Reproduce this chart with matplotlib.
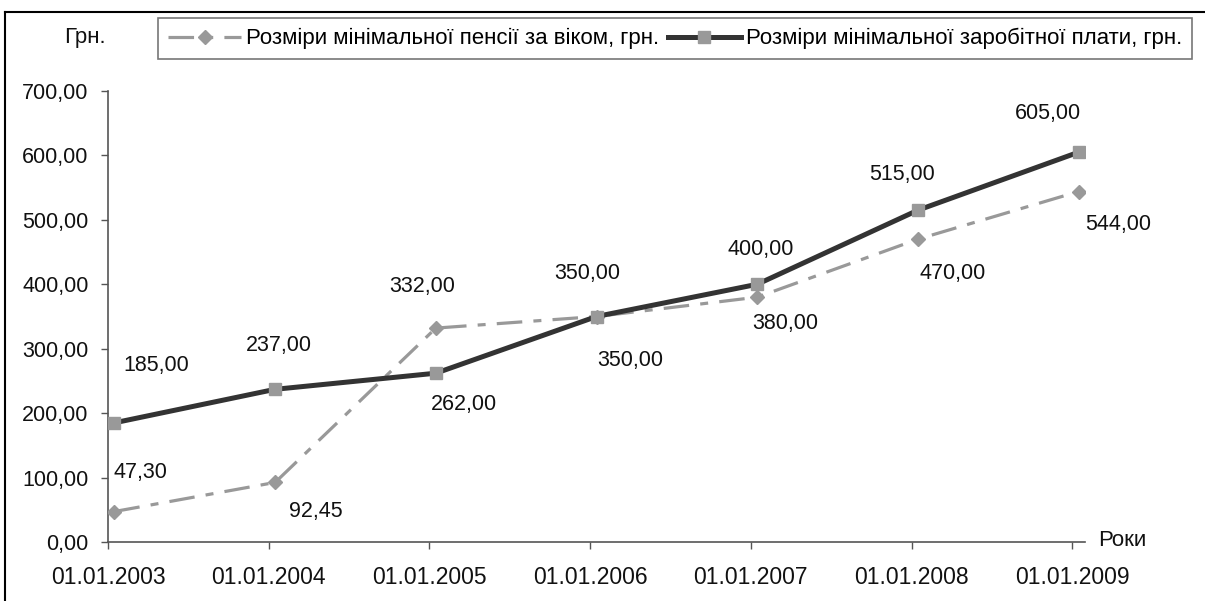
import numpy as np
import matplotlib
matplotlib.use("Agg")
import matplotlib.pyplot as plt
from matplotlib.lines import Line2D

plt.rcParams['font.family'] = ['Liberation Sans', 'DejaVu Sans']

# data
dates = ['01.01.2003', '01.01.2004', '01.01.2005', '01.01.2006',
         '01.01.2007', '01.01.2008', '01.01.2009']
pension = [47.30, 92.45, 332.00, 350.00, 380.00, 470.00, 544.00]
salary = [185.00, 237.00, 262.00, 350.00, 400.00, 515.00, 605.00]
pension_label = 'Розміри мінімальної пенсії за віком, грн.'
salary_label = 'Розміри мінімальної заробітної плати, грн.'
yticks = [0, 100, 200, 300, 400, 500, 600, 700]

# label offsets in pixels (dx, dy)
sal_off = [(42, 57), (4, 44), (28, -31), (-9, 43), (3, 35), (-16, 36), (-31, 39)]
pen_off = [(26, 39), (41, -29), (-14, 42), (34, -44), (28, -26), (35, -34), (40, -33)]

def fmt(v):
    return ('%.2f' % v).replace('.', ',')

fig = plt.figure(figsize=(12.05, 6.01), dpi=100)
ax = fig.add_axes([108/1205, 1-542/601, 977/1205, 451/601])

x = np.arange(len(dates))
xp = x + 0.04
ax.plot(xp, pension, color='#999999', lw=2.3, ls=(0, (8, 3.5, 2.5, 3.5)),
        marker='D', ms=7, mfc='#999999', mec='#999999', label=pension_label, zorder=3)
ax.plot(xp, salary, color='#333333', lw=3.6, marker='s', ms=8.5,
        mfc='#999999', mec='#999999', label=salary_label, zorder=4)

for xi, v, o in zip(xp, salary, sal_off):
    ax.annotate(fmt(v), (xi, v), xytext=o, textcoords='offset pixels',
                ha='center', va='center', fontsize=15.5, color='#111111')
for xi, v, o in zip(xp, pension, pen_off):
    ax.annotate(fmt(v), (xi, v), xytext=o, textcoords='offset pixels',
                ha='center', va='center', fontsize=15.5, color='#111111')

ax.set_xlim(0, 977/160.7)
ax.set_ylim(0, 700)
ax.set_xticks(x)
ax.set_xticklabels(dates)
ax.set_yticks(yticks)
ax.set_yticklabels([fmt(v) for v in yticks])
ax.tick_params(colors='#555555', labelcolor='#111111',
               length=5, width=1, direction='out')
ax.tick_params(axis='x', pad=12, labelsize=16.5)
ax.tick_params(axis='y', pad=9, labelsize=15.5)
for s in ['top', 'right']:
    ax.spines[s].set_visible(False)
for s in ['left', 'bottom']:
    ax.spines[s].set_color('#555555')
    ax.spines[s].set_linewidth(1.2)
ax.patch.set_alpha(0)

fig.text(1098/1205, 1-540/601, 'Роки', fontsize=16, ha='left', va='center', color='#111111')
fig.text(85/1205, 1-37/601, 'Грн.', fontsize=16, ha='center', va='center', color='#111111')

leg = fig.legend(loc='upper left', bbox_to_anchor=(158/1205, 1-18/601), ncol=2,
                 fontsize=16, frameon=True, fancybox=False, handlelength=3.3,
                 handletextpad=0.2, columnspacing=0.4, borderpad=0.45,
                 borderaxespad=0)
leg.get_frame().set_edgecolor('#555555')
leg.get_frame().set_linewidth(1.2)

# outer frame
fig.add_artist(Line2D([5/1205, 1], [1-12/601, 1-12/601], color='black', lw=1.5))
fig.add_artist(Line2D([5/1205, 5/1205], [0, 1-12/601], color='black', lw=1.5))

fig.savefig('out.png', dpi=100)
